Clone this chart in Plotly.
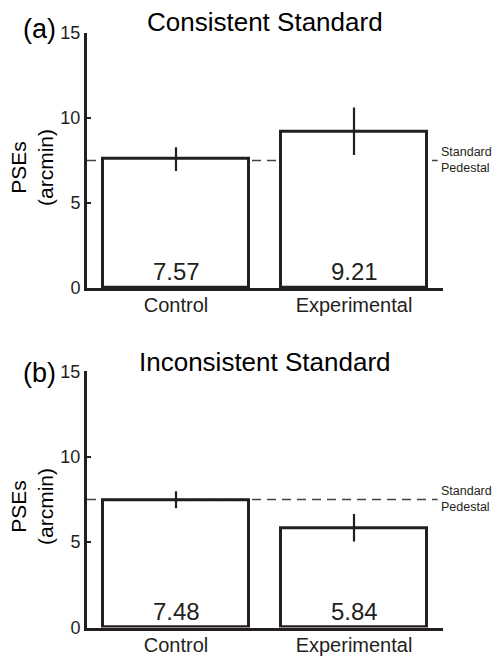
import plotly.graph_objects as go
from plotly.subplots import make_subplots

categories = ["Control", "Experimental"]
panel_titles = ["Consistent Standard", "Inconsistent Standard"]
panel_tags = ["(a)", "(b)"]
pse_a = [7.57, 9.21]
err_a = [0.7, 1.4]
pse_b = [7.48, 5.84]
err_b = [0.5, 0.8]
pedestal = 7.5
y_ticks = [0, 5, 10, 15]

# page has an 8px body margin; figure is sized to fit the 502x664 window
M = 8
W, H = 502 - 2 * M, 664 - 2 * M
INK = "#231f20"
FONT = "Liberation Sans, Arial, Helvetica, sans-serif"


def px(x):
    return (x - M) / W


def py(y):
    y = 33 + (y - 33) * 1.01
    f = (y - 18) / 0.97
    return 1 - f / H


fig = make_subplots(rows=2, cols=1)

x_dom = [px(87), px(443)]
y_doms = [[py(291), py(33)], [py(634), py(375)]]
title_y = [22, 366]
tag_y = [29, 377]

for i, (vals, errs) in enumerate([(pse_a, err_a), (pse_b, err_b)]):
    r = i + 1
    xref = "x" if r == 1 else "x2"
    yref = "y" if r == 1 else "y2"
    fig.add_trace(go.Bar(
        x=categories, y=vals, width=0.82,
        marker=dict(color="white", line=dict(color=INK, width=3)),
        error_y=dict(type="data", array=errs, visible=True, width=0,
                     thickness=2.2, color=INK),
        showlegend=False, hoverinfo="skip",
    ), row=r, col=1)
    for c, v in zip(categories, vals):
        fig.add_annotation(xref=xref, yref=yref, x=c, y=0, yanchor="bottom",
                           yshift=1, showarrow=False, text=f"{v:.2f}",
                           font=dict(size=24, color=INK, family=FONT))
    xa = "xaxis" if r == 1 else "xaxis2"
    ya = "yaxis" if r == 1 else "yaxis2"
    fig.layout[xa].update(domain=x_dom, range=[-0.5, 1.5], showline=True,
                          linewidth=3, linecolor=INK, ticks="", showgrid=False,
                          ticklabelstandoff=-3,
                          tickfont=dict(size=20, color=INK, family=FONT))
    fig.layout[ya].update(domain=y_doms[i], range=[0, 15], showline=True,
                          linewidth=3, linecolor=INK, ticks="inside", ticklen=4,
                          tickwidth=2, tickcolor=INK, tickvals=y_ticks,
                          showgrid=False, zeroline=False,
                          tickfont=dict(size=18, color=INK, family=FONT))
    fig.add_shape(type="line", xref=xref, yref=yref, x0=-0.5, x1=1.47,
                  y0=pedestal, y1=pedestal,
                  line=dict(color="#444", width=1.5, dash="9px,6px"),
                  layer="below")
    fig.add_annotation(xref="paper", yref=yref, x=px(440), y=pedestal,
                       xanchor="left", yanchor="middle", showarrow=False,
                       text="Standard<br>Pedestal", align="left", borderpad=0,
                       font=dict(size=12.5, color=INK, family=FONT))
    fig.add_annotation(xref="paper", yref="paper", x=px(265),
                       y=py(title_y[i]), xanchor="center", yanchor="middle",
                       showarrow=False, text=panel_titles[i],
                       font=dict(size=26, color="black", family=FONT))
    fig.add_annotation(xref="paper", yref="paper", x=px(39),
                       y=py(tag_y[i]), xanchor="center", yanchor="middle",
                       showarrow=False, text=panel_tags[i],
                       font=dict(size=27, color="black", family=FONT))
    mid = (y_doms[i][0] + y_doms[i][1]) / 2 - 8 / H
    fig.add_annotation(xref="paper", yref="paper", x=px(32), y=mid,
                       xanchor="center", yanchor="middle", showarrow=False,
                       textangle=-90, text="PSEs<br>(arcmin)",
                       font=dict(size=21, color="black", family=FONT))

fig.update_layout(width=W, height=H, margin=dict(l=0, r=0, t=0, b=0),
                  plot_bgcolor="white", paper_bgcolor="white",
                  font=dict(family=FONT, color=INK), bargap=0)
fig.write_html("out.html")
